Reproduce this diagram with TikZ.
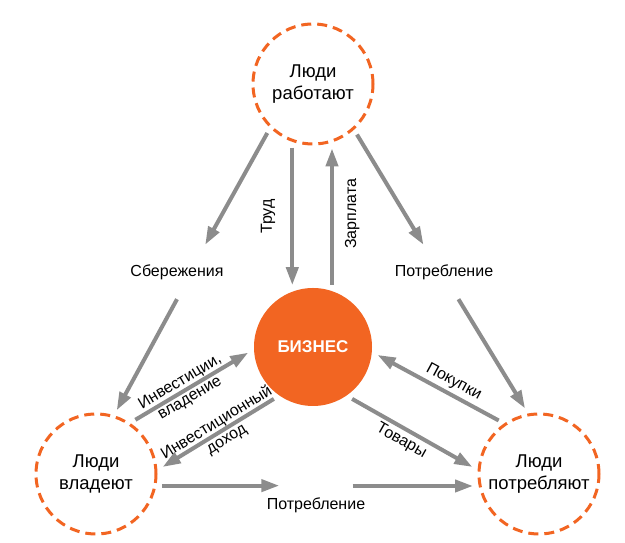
\documentclass[tikz,border=0pt]{standalone}
\usepackage{fontspec}
\setmainfont{Liberation Sans}
\usetikzlibrary{positioning,calc,arrows.meta}
\definecolor{bizorange}{HTML}{F26522}
\definecolor{flowgray}{HTML}{8C8C8C}

\begin{document}
\begin{tikzpicture}[
    x=1pt, y=1pt,
    people/.style={circle, draw=bizorange, line width=3pt, dash pattern=on 10pt off 6pt, minimum size=120pt, inner sep=0pt, outer sep=7pt, align=center, font=\fontsize{18.5}{22}\selectfont},
    business/.style={circle, fill=bizorange, minimum size=118pt, outer sep=6pt, text=white, font=\fontsize{17}{20}\selectfont\bfseries},
    flow/.style={draw=flowgray, line width=4pt, -{Triangle[length=18pt, width=12pt]}},
    lbl/.style={font=\fontsize{16}{19}\selectfont, align=center},
    stopover/.style={lbl, minimum height=54pt, inner sep=0pt}
]
    \useasboundingbox (0,0) rectangle (625,543);
    \fill[white] (0,0) rectangle (625,543);

    % People and business
    \foreach \nm/\x/\y/\txt in {work/313/459/{Люди\\работают}, own/96/69/{Люди\\владеют}, cons/539/69/{Люди\\потребляют}} {
        \node[people] (\nm) at (\x,\y) {\txt};
    }
    \node[business] (biz) at (313,196) {БИЗНЕС};

    % Savings and consumption stops
    \node[stopover] (save) at (177,271) {Сбережения};
    \node[stopover] (spendtop) at (444,271) {Потребление};
    \node[inner sep=0pt, minimum width=73pt, label={[lbl, label distance=8pt]below:Потребление}] (spendlow) at (316,57) {};

    \draw[flow] (work.227) -- (save.44);
    \draw[flow] (save.south) -- (own.72);
    \draw[flow] (work.311) -- (spendtop.127);
    \draw[flow] (spendtop.298) -- (cons.102);
    \draw[flow] (own.350) -- (own.350 -| spendlow.west);
    \draw[flow] (spendlow.east) -- (spendlow.east -| cons.190);

    % Labour and wages
    \draw[flow] (work.252) -- node[lbl, rotate=90, anchor=south, inner ysep=15pt] {Труд} (work.252 |- biz.108);
    \draw[flow] (biz.73) -- node[lbl, rotate=90, anchor=north, inner ysep=11pt, pos=0.52] {Зарплата} (biz.73 |- work.286);

    % Flows around business
    \draw[flow] (own.54) -- node[lbl, sloped, pos=0.44] {Инвестиции,\\владение} (biz.185);
    \draw[flow] (biz.233) -- node[lbl, sloped, pos=0.47] {Инвестиционный\\доход} (own.6);
    \draw[flow] (biz.307) -- node[lbl, sloped, below, pos=0.46] {Товары} (cons.174);
    \draw[flow] (cons.127) -- node[lbl, sloped, above, pos=0.42] {Покупки} (biz.353);

\end{tikzpicture}
\end{document}
